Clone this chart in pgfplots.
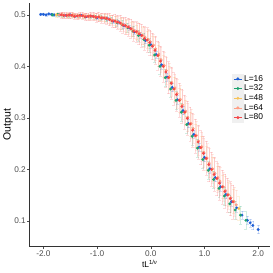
\documentclass[border=0pt]{standalone}
\usepackage{pgfplots}
\pgfplotsset{compat=1.18}
\usepackage{pgfplotstable}
\usepackage{fontspec}
\setmainfont{Liberation Sans}
\definecolor{c16}{HTML}{1F5FD6}
\definecolor{c32}{HTML}{1DA36F}
\definecolor{c48}{HTML}{F7C35A}
\definecolor{c64}{HTML}{FF9F85}
\definecolor{c80}{HTML}{F5484A}
\definecolor{axgray}{HTML}{333333}
\definecolor{tkgray}{HTML}{4D4D4D}
\pgfplotstableread{
x y e
-2.05 0.501 0.002
-2.0 0.501 0.002
-1.95 0.500 0.002
-1.9 0.502 0.002
-1.85 0.501 0.002
-1.8 0.500 0.002
-1.7 0.500 0.002
-1.6 0.499 0.002
-1.5 0.500 0.002
-1.4 0.498 0.002
-1.3 0.499 0.002
-1.2 0.497 0.002
-1.1 0.497 0.002
-1.0 0.495 0.003
-0.9 0.494 0.003
-0.8 0.492 0.003
-0.7 0.488 0.004
-0.6 0.486 0.004
-0.5 0.479 0.005
-0.4 0.475 0.005
-0.3 0.467 0.005
-0.2 0.461 0.006
-0.1 0.450 0.006
0.0 0.442 0.007
0.1 0.423 0.007
0.2 0.403 0.008
0.3 0.379 0.008
0.4 0.359 0.008
0.5 0.335 0.008
0.6 0.314 0.008
0.7 0.289 0.008
0.8 0.268 0.008
0.9 0.243 0.008
1.0 0.223 0.008
1.1 0.201 0.008
1.2 0.184 0.008
1.3 0.166 0.008
1.4 0.151 0.008
1.5 0.137 0.008
1.6 0.125 0.008
1.7 0.111 0.008
1.8 0.101 0.008
1.85 0.096 0.008
1.9 0.091 0.008
2.0 0.083 0.008
}\tsixteen
\pgfplotstableread{
x y e
-1.83 0.500 0.003
-1.73 0.501 0.003
-1.63 0.499 0.003
-1.53 0.499 0.003
-1.43 0.498 0.003
-1.33 0.498 0.003
-1.23 0.497 0.003
-1.13 0.497 0.003
-1.03 0.496 0.004
-0.93 0.494 0.005
-0.83 0.492 0.005
-0.73 0.489 0.006
-0.63 0.485 0.007
-0.53 0.481 0.008
-0.43 0.475 0.009
-0.33 0.468 0.010
-0.23 0.460 0.011
-0.13 0.452 0.012
-0.03 0.441 0.013
0.07 0.422 0.014
0.17 0.400 0.015
0.27 0.378 0.016
0.37 0.356 0.016
0.47 0.334 0.017
0.57 0.311 0.017
0.67 0.287 0.017
0.77 0.264 0.017
0.87 0.241 0.017
0.97 0.219 0.017
1.07 0.198 0.017
1.17 0.180 0.017
1.27 0.163 0.017
1.37 0.148 0.017
1.47 0.133 0.017
1.57 0.121 0.017
1.67 0.111 0.017
1.77 0.101 0.017
}\tthirtytwo
\pgfplotstableread{
x y e
-1.76 0.500 0.004
-1.66 0.500 0.004
-1.56 0.499 0.004
-1.46 0.499 0.004
-1.36 0.498 0.004
-1.26 0.498 0.004
-1.16 0.497 0.005
-1.06 0.496 0.005
-0.96 0.496 0.006
-0.86 0.494 0.007
-0.76 0.491 0.008
-0.66 0.488 0.009
-0.56 0.483 0.010
-0.46 0.478 0.012
-0.36 0.472 0.013
-0.26 0.466 0.014
-0.16 0.459 0.016
-0.06 0.452 0.017
0.04 0.440 0.018
0.14 0.421 0.020
0.24 0.400 0.021
0.34 0.378 0.022
0.44 0.356 0.023
0.54 0.334 0.023
0.64 0.311 0.023
0.74 0.288 0.023
0.84 0.265 0.023
0.94 0.242 0.023
1.04 0.221 0.023
1.14 0.200 0.023
1.24 0.183 0.023
1.34 0.166 0.023
1.44 0.151 0.023
1.54 0.138 0.023
1.64 0.124 0.023
}\tfortyeight
\pgfplotstableread{
x y e
-1.71 0.500 0.005
-1.65 0.501 0.005
-1.61 0.499 0.005
-1.55 0.498 0.005
-1.51 0.499 0.005
-1.45 0.500 0.005
-1.41 0.499 0.005
-1.35 0.497 0.005
-1.31 0.498 0.005
-1.25 0.499 0.005
-1.21 0.498 0.006
-1.15 0.496 0.006
-1.11 0.497 0.006
-1.05 0.497 0.007
-1.01 0.496 0.007
-0.95 0.494 0.007
-0.91 0.495 0.008
-0.85 0.494 0.008
-0.81 0.492 0.009
-0.75 0.491 0.009
-0.71 0.490 0.010
-0.65 0.486 0.011
-0.61 0.486 0.012
-0.55 0.484 0.012
-0.51 0.481 0.013
-0.45 0.477 0.014
-0.41 0.477 0.015
-0.35 0.473 0.015
-0.31 0.470 0.016
-0.25 0.468 0.017
-0.21 0.465 0.018
-0.15 0.460 0.018
-0.11 0.457 0.019
-0.05 0.452 0.020
-0.01 0.448 0.021
0.05 0.441 0.022
0.09 0.434 0.023
0.15 0.424 0.023
0.19 0.413 0.024
0.25 0.402 0.025
0.29 0.392 0.026
0.35 0.380 0.026
0.39 0.369 0.027
0.45 0.358 0.027
0.49 0.347 0.028
0.55 0.336 0.028
0.59 0.325 0.028
0.65 0.313 0.028
0.69 0.301 0.028
0.75 0.289 0.028
0.79 0.279 0.028
0.85 0.266 0.028
0.89 0.255 0.028
0.95 0.244 0.028
0.99 0.233 0.028
1.05 0.222 0.028
1.09 0.212 0.028
1.15 0.201 0.028
1.19 0.193 0.028
1.25 0.184 0.028
1.29 0.177 0.028
1.35 0.166 0.028
1.39 0.159 0.028
1.45 0.151 0.028
1.49 0.145 0.028
1.55 0.137 0.028
1.59 0.131 0.028
}\tsixtyfour
\pgfplotstableread{
x y e
-1.67 0.500 0.006
-1.62 0.499 0.006
-1.57 0.499 0.006
-1.52 0.500 0.006
-1.47 0.499 0.006
-1.42 0.497 0.006
-1.37 0.498 0.006
-1.32 0.499 0.006
-1.27 0.498 0.007
-1.22 0.496 0.007
-1.17 0.497 0.007
-1.12 0.498 0.008
-1.07 0.497 0.008
-1.02 0.495 0.009
-0.97 0.496 0.009
-0.92 0.494 0.010
-0.87 0.494 0.010
-0.82 0.493 0.011
-0.77 0.491 0.012
-0.72 0.488 0.012
-0.67 0.488 0.013
-0.62 0.486 0.014
-0.57 0.484 0.015
-0.52 0.480 0.016
-0.47 0.479 0.017
-0.42 0.476 0.018
-0.37 0.473 0.018
-0.32 0.468 0.019
-0.27 0.467 0.020
-0.22 0.463 0.021
-0.17 0.460 0.022
-0.12 0.454 0.023
-0.07 0.451 0.024
-0.02 0.446 0.025
0.03 0.439 0.026
0.08 0.431 0.027
0.13 0.421 0.028
0.18 0.410 0.029
0.23 0.400 0.030
0.28 0.389 0.030
0.33 0.378 0.031
0.38 0.367 0.031
0.43 0.356 0.032
0.48 0.345 0.032
0.53 0.334 0.033
0.58 0.322 0.033
0.63 0.311 0.033
0.68 0.299 0.033
0.73 0.288 0.033
0.78 0.276 0.033
0.83 0.265 0.033
0.88 0.253 0.033
0.93 0.242 0.033
0.98 0.231 0.033
1.03 0.221 0.033
1.08 0.209 0.033
1.13 0.200 0.033
1.18 0.190 0.033
1.23 0.182 0.033
1.28 0.173 0.033
1.33 0.166 0.033
1.38 0.157 0.033
1.43 0.150 0.033
1.48 0.143 0.033
1.53 0.137 0.033
}\teighty
\pgfplotsset{
  series/.style={only marks, mark=*, mark size=1.25pt, color=#1,
    error bars/.cd, y dir=both, y explicit,
    error bar style={#1, opacity=0.2, line width=0.45pt},
    error mark options={rotate=90, mark size=1.5pt, #1, opacity=0.2, line width=0.45pt},
    /pgfplots/.cd},
  lkey/.style={legend image code/.code={
    \fill[gray!12] (0bp,-4.65bp) rectangle (11bp,4.65bp);
    \draw[#1, line width=0.6pt] (1.5bp,0bp) -- (9.5bp,0bp);
    \fill[#1] (5.5bp,0bp) circle (1.3pt);}}
}
\begin{document}
\begin{tikzpicture}
\begin{axis}[
  at={(29bp,26bp)}, anchor=south west,
  scale only axis, width=241bp, height=244bp,
  xmin=-2.26, xmax=2.22, ymin=0.05, ymax=0.523,
  axis x line*=bottom, axis y line*=left,
  axis line style={axgray, line width=0.7pt, -},
  xtick={-2,-1,0,1,2}, ytick={0.1,0.2,0.3,0.4,0.5},
  tick align=outside, major tick length=2.5bp,
  tick style={tkgray, line width=0.5pt},
  ticklabel style={font=\fontsize{8.3}{9}\selectfont, text=tkgray},
  xticklabel style={inner sep=1.5bp},
  yticklabel style={inner sep=1bp},
  /pgf/number format/assume math mode=true,
  xticklabel={\pgfmathprintnumber[fixed, fixed zerofill, precision=1]{\tick}},
  yticklabel={\pgfmathprintnumber[fixed, fixed zerofill, precision=1]{\tick}},
  xlabel={tL\textsuperscript{1/ν}}, ylabel={Output},
  xlabel style={font=\fontsize{8.5}{9}\selectfont, at={(axis description cs:0.5,-0.07)}, anchor=center},
  ylabel style={font=\fontsize{10.5}{11}\selectfont, at={(axis description cs:-0.089,0.5)}, anchor=center},
  legend style={at={(0.842,0.609)}, anchor=west, draw=none, fill=none,
    font=\fontsize{8.5}{9}\selectfont, row sep=0pt, inner sep=0pt,
    nodes={inner sep=0.5bp}, legend cell align=left},
  clip=false,
]
\addplot[lkey=c16, series=c16] table[x=x,y=y,y error=e]{\tsixteen};
\addlegendentry{L=16}
\addplot[lkey=c32, series=c32] table[x=x,y=y,y error=e]{\tthirtytwo};
\addlegendentry{L=32}
\addplot[lkey=c48, series=c48] table[x=x,y=y,y error=e]{\tfortyeight};
\addlegendentry{L=48}
\addplot[lkey=c64, series=c64] table[x=x,y=y,y error=e]{\tsixtyfour};
\addlegendentry{L=64}
\addplot[lkey=c80, series=c80] table[x=x,y=y,y error=e]{\teighty};
\addlegendentry{L=80}
\end{axis}
\path[use as bounding box] (0,0) rectangle (273bp,273bp);
\end{tikzpicture}
\end{document}
